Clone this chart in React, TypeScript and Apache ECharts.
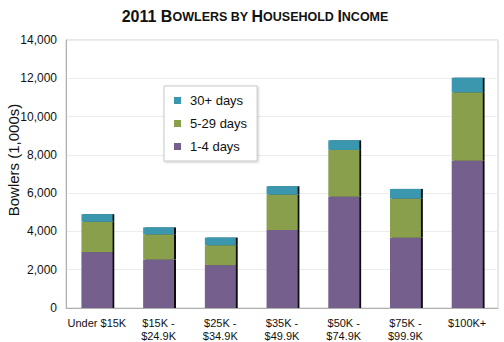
import React, { useEffect, useRef } from "react";
import * as echarts from "echarts";

const categories = ["Under $15K", "$15K -\n$24.9K", "$25K -\n$34.9K", "$35K -\n$49.9K", "$50K -\n$74.9K", "$75K -\n$99.9K", "$100K+"];
const days1to4 = [2920, 2540, 2240, 4070, 5820, 3680, 7700];
const days5to29 = [1590, 1310, 1040, 1860, 2440, 2040, 3570];
const days30plus = [390, 360, 400, 430, 500, 500, 760];
const seriesNames = ["1-4 days", "5-29 days", "30+ days"];
const colors = ["#745E8D", "#8A9F4B", "#3A97AE"];

export default function App() {
  const ref = useRef<HTMLDivElement>(null);
  useEffect(() => {
    if (!ref.current) return;
    const chart = echarts.init(ref.current, null, { renderer: "svg" });
    const font = "Liberation Sans, Arial, sans-serif";
    const mk = (name: string, data: number[], color: string) => ({
      name,
      type: "bar",
      stack: "total",
      data,
      barWidth: "50%",
      itemStyle: {
        color,
        shadowColor: "rgba(0,0,0,0.95)",
        shadowOffsetX: 2,
        shadowOffsetY: 0,
        shadowBlur: 0,
      },
    });
    chart.setOption({
      animation: false,
      backgroundColor: "#ffffff",
      textStyle: { fontFamily: font },
      title: {
        text: "{a|2011 B}{b|OWLERS BY }{a|H}{b|OUSEHOLD }{a|I}{b|NCOME}",
        left: 250,
        textAlign: "center",
        top: -1,
        textStyle: {
          rich: {
            a: { fontSize: 16, fontWeight: "bold", color: "#111", fontFamily: font, lineHeight: 20, verticalAlign: "bottom" },
            b: { fontSize: 12.5, fontWeight: "bold", color: "#111", fontFamily: font, lineHeight: 20, verticalAlign: "bottom", padding: [0, 0, 1, 0] },
          },
        },
      },
      legend: {
        orient: "vertical",
        left: 164,
        top: 86,
        data: ["30+ days", "5-29 days", "1-4 days"],
        itemWidth: 7,
        itemHeight: 7,
        itemGap: 10,
        padding: [8, 10, 8, 10],
        borderColor: "#c8c8c8",
        borderWidth: 1,
        backgroundColor: "#fff",
        shadowColor: "rgba(0,0,0,0.2)",
        shadowBlur: 2,
        shadowOffsetX: 1,
        shadowOffsetY: 1,
        icon: "rect",
        textStyle: { fontSize: 13, color: "#111", fontFamily: font, padding: [0, 0, 0, 4] },
      },
      graphic: [
        {
          type: "text",
          x: 13,
          y: 160,
          rotation: Math.PI / 2,
          style: {
            text: "Bowlers (1,000s)",
            fontSize: 15,
            fontFamily: font,
            fill: "#111",
            align: "center",
            verticalAlign: "middle",
          },
        },
      ],
      grid: {
        left: 66,
        right: 6,
        top: 40,
        bottom: 32,
        show: true,
        borderColor: "#d0d0d0",
        borderWidth: 1,
      },
      xAxis: {
        type: "category",
        data: categories,
        axisLine: { lineStyle: { color: "#b0b0b0" } },
        axisTick: { show: false },
        axisLabel: { fontSize: 11, color: "#111", fontFamily: font, lineHeight: 13, margin: 8, interval: 0 },
      },
      yAxis: {
        type: "value",
        min: 0,
        max: 14000,
        interval: 2000,
        axisLine: { show: true, lineStyle: { color: "#b0b0b0" } },
        axisTick: { show: false },
        splitLine: { lineStyle: { color: "#ececec" } },
        axisLabel: {
          fontSize: 12,
          color: "#111",
          fontFamily: font,
          margin: 9,
          formatter: (v: number) => v.toLocaleString("en-US"),
        },
      },
      series: [
        mk(seriesNames[0], days1to4, colors[0]),
        mk(seriesNames[1], days5to29, colors[1]),
        mk(seriesNames[2], days30plus, colors[2]),
      ],
    });
    return () => chart.dispose();
  }, []);
  return <div ref={ref} style={{ width: 504, height: 342, position: "absolute", left: 0, top: 0 }} />;
}
